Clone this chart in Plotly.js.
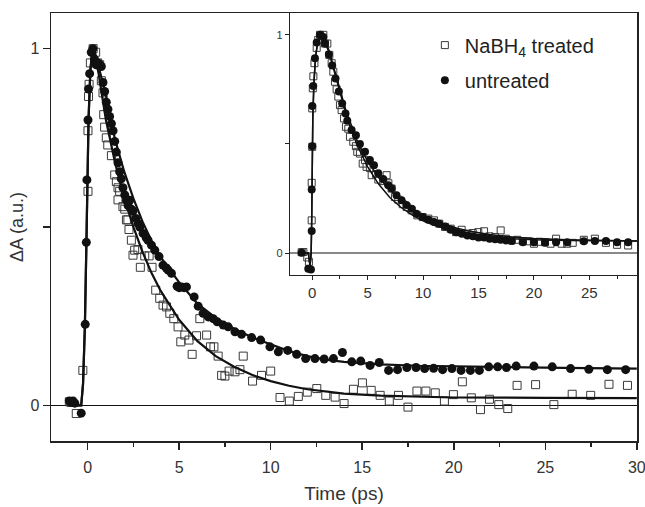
<!DOCTYPE html>
<html><head><meta charset="utf-8">
<script src="https://cdn.plot.ly/plotly-3.0.1.min.js"></script>
<style>html,body{margin:0;padding:0;background:#fff;}#chart{width:645px;height:507px;}</style>
</head><body><div id="chart"></div>
<script>
// ---- main panel: data (time in ps, ΔA normalised) ----
var mainTreatedT = [-1.0,-0.9,-0.62,-0.26,0.02,0.02,0.05,0.08,0.15,0.3,0.44,0.55,0.66,0.75,0.84,0.88,0.93,1.02,1.1,1.3,1.48,1.57,1.66,1.66,1.75,1.93,2.03,2.12,2.2,2.26,2.39,2.48,2.57,2.75,2.88,3.12,3.36,3.52,3.72,3.94,4.12,4.31,4.49,4.71,4.94,5.09,5.31,5.54,5.71,5.95,6.13,6.5,6.71,6.9,7.13,7.32,7.5,7.73,8.05,8.32,8.5,9.01,9.5,10.0,10.51,11.02,11.51,12.0,12.52,13.01,13.52,14.01,14.52,15.01,15.49,15.98,16.48,16.98,17.5,17.99,18.48,18.99,19.49,19.98,20.47,20.96,21.46,21.95,22.46,22.95,23.46,24.47,25.47,26.47,27.48,28.48,29.49];
var mainTreatedA = [0.01,0.008,-0.023,0.098,0.60,0.77,0.866,0.90,0.96,1.0,0.99,0.96,0.955,0.91,0.876,0.815,0.78,0.75,0.73,0.70,0.646,0.627,0.61,0.576,0.60,0.557,0.55,0.52,0.52,0.493,0.463,0.421,0.435,0.437,0.387,0.419,0.419,0.387,0.323,0.30,0.281,0.276,0.258,0.243,0.22,0.178,0.197,0.183,0.143,0.195,0.243,0.197,0.164,0.164,0.138,0.084,0.082,0.096,0.094,0.10,0.138,0.068,0.084,0.096,0.022,0.012,0.025,0.037,0.047,0.028,0.023,0.005,0.045,0.063,0.042,0.028,0.012,0.028,-0.005,0.04,0.04,0.035,0.012,0.03,0.066,0.021,-0.012,0.017,0.002,-0.009,0.056,0.058,0.002,0.031,0.028,0.059,0.056];

var mainUntreatedT = [-1.0,-0.9,-0.8,-0.7,-0.35,-0.13,-0.07,-0.04,0.02,0.05,0.11,0.2,0.29,0.38,0.47,0.56,0.66,0.75,0.84,0.93,1.02,1.11,1.2,1.3,1.39,1.48,1.57,1.66,1.75,1.84,1.93,2.03,2.12,2.21,2.3,2.39,2.48,2.63,2.75,2.85,3.03,3.2,3.3,3.49,3.67,3.9,4.12,4.3,4.4,4.58,4.89,5.0,5.13,5.27,5.4,5.82,6.04,6.31,6.59,6.86,7.08,7.41,7.68,8.05,8.41,8.96,9.45,9.96,10.42,10.93,11.42,11.91,12.42,12.92,13.43,13.92,14.43,14.92,15.43,15.93,16.44,16.93,17.44,17.94,18.41,18.9,19.39,19.9,20.4,20.91,21.4,21.91,22.4,22.88,23.41,24.38,25.38,26.38,27.38,28.39,29.39];
var mainUntreatedA = [0.012,0.010,0.012,0.006,-0.022,0.227,0.457,0.632,0.80,0.887,0.93,0.99,1.0,0.97,0.955,0.96,0.955,0.95,0.905,0.88,0.85,0.83,0.81,0.79,0.77,0.74,0.71,0.68,0.655,0.635,0.61,0.59,0.575,0.56,0.575,0.55,0.545,0.524,0.51,0.50,0.482,0.47,0.463,0.449,0.435,0.417,0.393,0.385,0.379,0.37,0.334,0.33,0.332,0.33,0.332,0.304,0.278,0.258,0.248,0.243,0.234,0.225,0.22,0.206,0.199,0.19,0.183,0.164,0.15,0.154,0.143,0.131,0.131,0.13,0.131,0.148,0.122,0.124,0.112,0.12,0.098,0.10,0.106,0.106,0.103,0.104,0.10,0.103,0.098,0.098,0.098,0.108,0.108,0.106,0.11,0.11,0.108,0.103,0.101,0.10,0.10];

// fitted curves
var fitTreatedT = [-1.0,-0.35,-0.25,-0.15,-0.05,0.05,0.15,0.25,0.35,0.6,1.0,1.5,2.0,2.5,3.0,3.5,4.0,4.5,5.0,6.0,7.0,8.0,9.0,10,11,12,13,14,16,18,20,25,30];
var fitTreatedA = [0,0,0.06,0.22,0.5,0.8,0.94,0.99,0.995,0.93,0.80,0.68,0.58,0.50,0.43,0.37,0.32,0.28,0.24,0.18,0.138,0.108,0.085,0.068,0.055,0.045,0.038,0.033,0.027,0.024,0.022,0.021,0.020];
var fitUntreatedT = [-1.0,-0.35,-0.25,-0.15,-0.05,0.05,0.15,0.25,0.35,0.6,1.0,1.5,2.0,2.5,3.0,3.5,4.0,5.0,6.0,7.0,8.0,9.0,10,11,12,13,14,16,18,20,23,26,30];
var fitUntreatedA = [0,0,0.06,0.22,0.5,0.8,0.94,0.99,1.0,0.95,0.87,0.745,0.655,0.58,0.515,0.46,0.415,0.345,0.285,0.245,0.215,0.19,0.17,0.152,0.138,0.128,0.122,0.115,0.111,0.109,0.107,0.105,0.103];

// ---- inset panel ----
var insetTreatedT = [-0.96,-0.8,-0.45,-0.3,-0.05,-0.05,0.0,0.0,0.05,0.1,0.2,0.4,0.54,0.7,1.0,1.15,1.36,1.54,1.75,1.9,2.05,2.2,2.35,2.5,2.65,2.86,3.04,3.25,3.4,3.7,3.94,4.06,4.3,4.55,4.76,4.9,5.2,5.36,5.75,5.96,6.4,6.71,6.87,7.16,7.46,7.76,8.16,8.52,8.97,9.48,9.96,10.47,10.98,11.46,11.98,12.49,12.97,13.48,13.99,14.48,14.98,15.5,15.98,16.5,17.0,17.48,17.98,18.5,19.0,19.5,20.0,20.5,21.0,21.5,22.0,22.5,23.0,23.5,24.5,25.5,26.5,27.5,28.5];
var insetTreatedA = [0.004,0.005,-0.02,-0.04,0.15,0.322,0.487,0.663,0.755,0.81,0.87,0.94,0.977,1.0,1.0,0.96,0.96,0.908,0.87,0.831,0.785,0.75,0.717,0.678,0.655,0.617,0.579,0.57,0.533,0.51,0.49,0.464,0.456,0.41,0.426,0.395,0.39,0.357,0.362,0.337,0.33,0.357,0.32,0.296,0.257,0.245,0.224,0.211,0.196,0.173,0.165,0.158,0.15,0.135,0.12,0.112,0.096,0.107,0.089,0.092,0.096,0.10,0.077,0.074,0.104,0.066,0.058,0.061,0.055,0.054,0.043,0.052,0.05,0.043,0.066,0.043,0.043,0.047,0.061,0.066,0.047,0.038,0.035];

var insetUntreatedT = [-0.96,-0.36,-0.12,-0.05,-0.05,0.0,0.0,0.09,0.24,0.4,0.7,1.0,1.15,1.5,1.8,2.1,2.4,2.7,3.0,3.16,3.55,3.94,4.3,4.76,5.2,5.57,5.96,6.4,6.86,7.16,7.6,8.06,8.5,8.97,9.4,9.96,10.47,10.98,11.46,11.98,12.5,13.0,13.5,14.0,14.5,15.0,15.5,16.0,16.5,17.0,17.5,18.0,19.0,20.0,21.0,22.0,23.0,24.5,25.5,26.5,27.5,28.5];
var insetUntreatedA = [0.002,-0.072,-0.075,0.101,0.291,0.49,0.674,0.766,0.893,0.965,1.0,0.99,0.96,0.91,0.86,0.80,0.74,0.685,0.64,0.606,0.564,0.54,0.50,0.464,0.426,0.403,0.366,0.34,0.311,0.296,0.265,0.242,0.22,0.203,0.18,0.165,0.153,0.142,0.135,0.122,0.107,0.096,0.089,0.081,0.077,0.071,0.071,0.066,0.063,0.061,0.058,0.055,0.05,0.05,0.047,0.05,0.05,0.054,0.055,0.055,0.05,0.05];

var insetFitAT = [-1.0,-0.35,-0.2,-0.1,-0.05,0,0.05,0.15,0.3,0.5,0.8,1.0,1.5,2,2.5,3,3.5,4,5,6,7,8,9,10,11,12,13,14,16,18,20,23,26,29.3];
var insetFitAA = [0,0,-0.06,0.0,0.15,0.4,0.62,0.78,0.9,0.97,1.0,0.99,0.93,0.84,0.75,0.66,0.59,0.52,0.42,0.345,0.29,0.24,0.2,0.17,0.148,0.13,0.115,0.102,0.085,0.074,0.067,0.061,0.058,0.056];
var insetFitBT = [-1.0,-0.35,-0.2,-0.1,-0.05,0,0.05,0.15,0.3,0.5,0.8,1.0,1.5,2,2.5,3,3.5,4,5,6,7,8,9,10,11,12,13,14,16,18,20,23,26,29.3];
var insetFitBA = [0,0,-0.06,0.0,0.15,0.4,0.62,0.78,0.9,0.97,1.0,0.985,0.92,0.83,0.735,0.645,0.57,0.5,0.395,0.315,0.255,0.21,0.175,0.148,0.127,0.111,0.098,0.088,0.074,0.066,0.061,0.058,0.056,0.055];

var legendNames = ['NaBH<sub>4</sub> treated', 'untreated'];

var sqMarker = {symbol:'square-open', size:8, color:'#3a3a3a', line:{width:1, color:'#3a3a3a'}};
var ciMarker = {symbol:'circle', size:9, color:'#111', line:{width:0}};
var sqMarkerIn = {symbol:'square-open', size:7, color:'#3a3a3a', line:{width:1, color:'#3a3a3a'}};
var ciMarkerIn = {symbol:'circle', size:8, color:'#111', line:{width:0}};

var traces = [
  {x:mainTreatedT, y:mainTreatedA, xaxis:'x', yaxis:'y', mode:'markers', marker:sqMarker, showlegend:false, hoverinfo:'skip'},
  {x:mainUntreatedT, y:mainUntreatedA, xaxis:'x', yaxis:'y', mode:'markers', marker:ciMarker, showlegend:false, hoverinfo:'skip'},
  {x:fitTreatedT, y:fitTreatedA, xaxis:'x', yaxis:'y', mode:'lines', line:{color:'#111', width:2.2}, showlegend:false, hoverinfo:'skip'},
  {x:fitUntreatedT, y:fitUntreatedA, xaxis:'x', yaxis:'y', mode:'lines', line:{color:'#111', width:2.2}, showlegend:false, hoverinfo:'skip'},
  {x:insetTreatedT, y:insetTreatedA, xaxis:'x2', yaxis:'y2', mode:'markers', marker:sqMarkerIn, name:legendNames[0], legend:'legend', hoverinfo:'skip'},
  {x:insetUntreatedT, y:insetUntreatedA, xaxis:'x2', yaxis:'y2', mode:'markers', marker:ciMarkerIn, name:legendNames[1], legend:'legend2', hoverinfo:'skip'},
  {x:insetFitAT, y:insetFitAA, xaxis:'x2', yaxis:'y2', mode:'lines', line:{color:'#111', width:1.5}, showlegend:false, hoverinfo:'skip'},
  {x:insetFitBT, y:insetFitBA, xaxis:'x2', yaxis:'y2', mode:'lines', line:{color:'#111', width:1.5}, showlegend:false, hoverinfo:'skip'}
];

var axCol = '#222';
var fontFam = 'Liberation Sans, Arial, Helvetica, sans-serif';
var layout = {
  width:645, height:507,
  margin:{l:51, r:8, t:13, b:66},
  paper_bgcolor:'#fff', plot_bgcolor:'#fff',
  font:{family:fontFam, color:'#333'},
  xaxis:{domain:[0,1], anchor:'y', range:[-2,30.01], tick0:0, dtick:5,
    showline:true, linecolor:axCol, linewidth:1.5, mirror:true,
    ticks:'outside', ticklen:7, tickwidth:1.5, tickcolor:axCol, ticklabelstandoff:4,
    ticklabeloverflow:'allow',
    minor:{ticks:'outside', tick0:0, dtick:2.5, ticklen:4, tickwidth:1.2, tickcolor:axCol, showgrid:false},
    showgrid:false, zeroline:false, tickfont:{size:16, color:'#333'},
    title:{text:'Time (ps)', font:{size:19, color:'#333'}, standoff:12}},
  yaxis:{domain:[0,1], anchor:'x', range:[-0.1,1.1], tick0:0, dtick:1,
    showline:true, linecolor:axCol, linewidth:1.5, mirror:true,
    ticks:'outside', ticklen:7, tickwidth:1.5, tickcolor:axCol,
    minor:{ticks:'outside', tick0:0, dtick:0.5, ticklen:7, tickwidth:1.5, tickcolor:axCol, showgrid:false},
    showgrid:false, zeroline:true, zerolinecolor:'#111', zerolinewidth:1.5,
    tickfont:{size:16, color:'#333'},
    title:{text:'ΔA (a.u.)', font:{size:18, color:'#333'}, standoff:2}},
  xaxis2:{domain:[0.408,1], anchor:'y2', range:[-2,29.3], tick0:0, dtick:5,
    showline:true, linecolor:axCol, linewidth:1.2, mirror:true,
    ticks:'outside', ticklen:4, tickwidth:1, tickcolor:axCol,
    minor:{ticks:'outside', tick0:0, dtick:2.5, ticklen:3, tickwidth:1, tickcolor:axCol, showgrid:false},
    showgrid:false, zeroline:false, tickfont:{size:15, color:'#333'}},
  yaxis2:{domain:[0.388,1], anchor:'x2', range:[-0.1,1.1], tick0:0, dtick:1,
    showline:true, linecolor:axCol, linewidth:1.2, mirror:true,
    ticks:'outside', ticklen:4, tickwidth:1, tickcolor:axCol,
    minor:{ticks:'outside', tick0:0, dtick:0.5, ticklen:4, tickwidth:1, tickcolor:axCol, showgrid:false},
    showgrid:false, zeroline:true, zerolinecolor:'#888', zerolinewidth:1.5,
    tickfont:{size:11, color:'#333'}},
  legend:{x:0.638, y:0.925, xanchor:'left', yanchor:'middle', bgcolor:'rgba(0,0,0,0)', borderwidth:0,
    font:{size:20, color:'#222', family:fontFam}},
  legend2:{x:0.638, y:0.843, xanchor:'left', yanchor:'middle', bgcolor:'rgba(0,0,0,0)', borderwidth:0,
    font:{size:20, color:'#222', family:fontFam}}
};

Plotly.newPlot('chart', traces, layout, {displayModeBar:false, staticPlot:true});
</script></body></html>
